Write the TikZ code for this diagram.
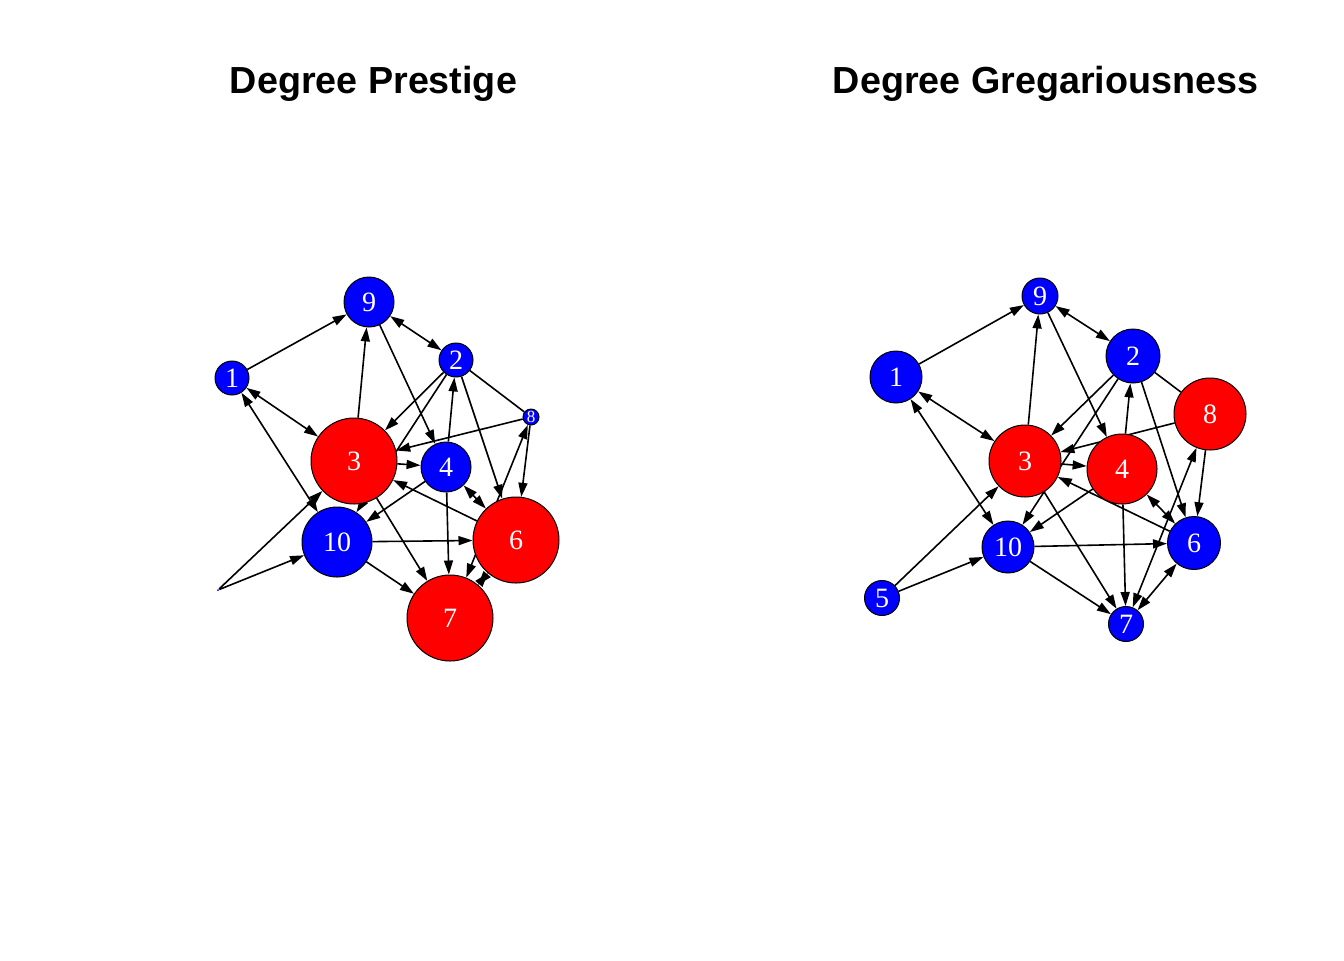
\documentclass[tikz,border=0pt]{standalone}
\usepackage{fontspec}
\setmainfont{Liberation Serif}
\newfontfamily\headfont{Liberation Sans}
\usetikzlibrary{arrows.meta}
\pgfdeclarelayer{background}
\pgfsetlayers{background,main}

\tikzset{
  vtx/.style={circle, draw=black, line width=0.5pt, inner sep=0pt, text=white, font=\fontsize{14}{14}\selectfont},
  hot/.style={vtx, fill=red},
  cold/.style={vtx, fill=blue},
  arr/.style={-{Triangle[length=7pt,width=4.5pt]}, line width=0.8pt},
  biarr/.style={{Triangle[length=7pt,width=4.5pt]}-{Triangle[length=7pt,width=4.5pt]}, line width=0.8pt},
  title/.style={anchor=base, font=\headfont\bfseries\fontsize{18.85}{22}\selectfont}
}

\begin{document}
\begin{tikzpicture}[x=0.5pt, y=-0.5pt]
\useasboundingbox (0,0) rectangle (1344,960);

% titles
\node[title] (tprest) at (373.5,93) {Degree Prestige};
\node[title] (tgreg) at (1045.5,93) {Degree Gregariousness};

% prestige (in-degree)
\node[cold, minimum size=25pt] (p9) at (369,302) {9};
\node[cold, minimum size=17pt] (p2) at (456,360) {2};
\node[cold, minimum size=17pt] (p1) at (232,378) {1};
\node[cold, minimum size=8pt, font=\fontsize{8.5}{8.5}\selectfont] (p8) at (531,417) {8};
\node[hot, minimum size=43pt] (p3) at (354,461) {3};
\node[cold, minimum size=25pt] (p4) at (446,467) {4};
\node[cold, minimum size=35pt] (p10) at (337,542) {10};
\node[hot, minimum size=43pt] (p6) at (516,540) {6};
\node[hot, minimum size=43pt] (p7) at (450,618) {7};
\node[cold, draw=none, minimum size=1pt] (p5) at (218,590) {};

% gregariousness (out-degree)
\node[cold, minimum size=18pt] (g9) at (1040,296) {9};
\node[cold, minimum size=27pt] (g2) at (1133,356) {2};
\node[cold, minimum size=26pt] (g1) at (896,377) {1};
\node[hot, minimum size=36pt] (g8) at (1210,414) {8};
\node[hot, minimum size=36pt] (g3) at (1025,461) {3};
\node[hot, minimum size=35pt] (g4) at (1122,469) {4};
\node[cold, minimum size=26pt] (g10) at (1008,547) {10};
\node[cold, minimum size=26.5pt] (g6) at (1194,543) {6};
\node[cold, minimum size=17.5pt] (g7) at (1126,624) {7};
\node[cold, minimum size=17.5pt] (g5) at (882,598) {5};

% edges, behind the vertices
\begin{pgfonlayer}{background}
\foreach \g in {p,g} {
  \foreach \a/\b in {1/9, 3/9, 9/4, 2/3, 2/10, 4/2, 2/6, 8/3, 8/6, 3/4, 6/3,
                     4/10, 4/7, 3/7, 10/6, 10/7, 5/3, 5/10}
    \draw[arr] (\g\a) -- (\g\b);
  \foreach \a/\b in {1/3, 1/10, 9/2, 7/8, 4/6, 6/7}
    \draw[biarr] (\g\a) -- (\g\b);
  \draw[line width=0.8pt] (\g2) -- (\g8);
}
\end{pgfonlayer}
\end{tikzpicture}
\end{document}
